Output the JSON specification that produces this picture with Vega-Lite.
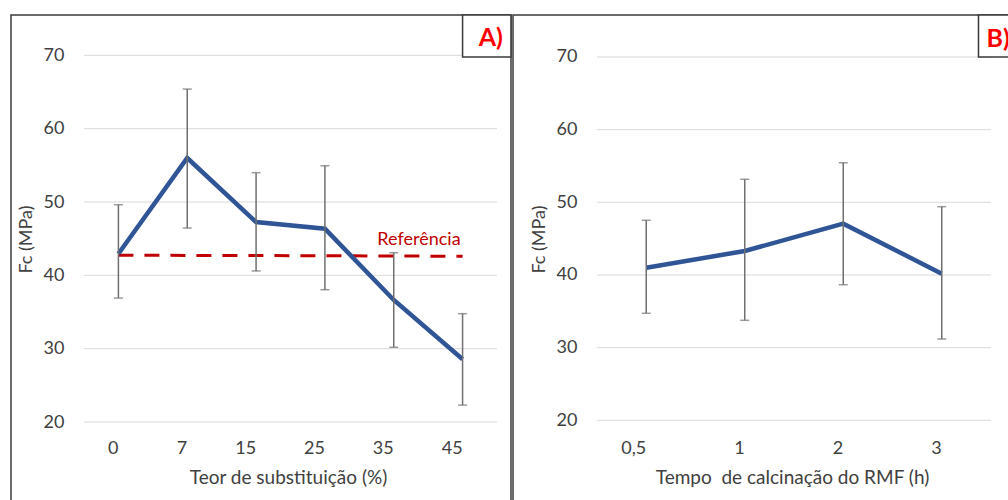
{
  "$schema": "https://vega.github.io/schema/vega-lite/v6.json",
  "padding": {"left": 10, "top": 13, "right": 0, "bottom": 0},
  "spacing": -2.5,
  "config": {
    "view": {"stroke": "#3a3a3a", "strokeWidth": 1.5},
    "font": "Lato",
    "axis": {
      "labelFont": "Lato", "labelFontSize": 18, "labelColor": "#404040",
      "titleFont": "Lato", "titleFontSize": 18, "titleColor": "#404040", "titleFontWeight": "normal",
      "domain": false, "ticks": false, "tickSize": 0, "grid": false, "labelPadding": 2
    }
  },
  "datasets": {
    "subst": [
      {"teor": 0, "fc": 42.95, "lo": 36.9, "hi": 49.63, "ref": 42.75},
      {"teor": 7, "fc": 56.0, "lo": 46.45, "hi": 65.4, "ref": 42.72},
      {"teor": 15, "fc": 47.27, "lo": 40.6, "hi": 54.0, "ref": 42.7},
      {"teor": 25, "fc": 46.36, "lo": 38.04, "hi": 54.95, "ref": 42.67},
      {"teor": 35, "fc": 36.64, "lo": 30.19, "hi": 43.09, "ref": 42.64},
      {"teor": 45, "fc": 28.55, "lo": 22.3, "hi": 34.77, "ref": 42.6}
    ],
    "calc": [
      {"tempo": "0,5", "fc": 41.0, "lo": 34.73, "hi": 47.53},
      {"tempo": "1", "fc": 43.3, "lo": 33.76, "hi": 53.17},
      {"tempo": "2", "fc": 47.06, "lo": 38.66, "hi": 55.45},
      {"tempo": "3", "fc": 40.18, "lo": 31.19, "hi": 49.4}
    ],
    "grid": [{"g": 20}, {"g": 30}, {"g": 40}, {"g": 50}, {"g": 60}, {"g": 70}]
  },
  "hconcat": [
    {
      "width": 500,
      "height": 492,
      "layer": [
        {
          "data": {"name": "grid"},
          "mark": {"type": "rule", "color": "#d9d9d9", "strokeWidth": 1},
          "encoding": {
            "y": {"field": "g", "type": "quantitative", "scale": {"domain": [8.41, 75.5], "nice": false, "zero": false}},
            "x": {"datum": 0, "type": "ordinal", "bandPosition": 0, "scale": {"type": "band", "paddingInner": 0, "paddingOuter": 0.632, "align": 0.839}},
            "x2": {"datum": 45, "bandPosition": 1}
          }
        },
        {
          "data": {"values": [{"panel": "A)"}]},
          "mark": {"type": "rect", "fill": "white", "stroke": "#3a3a3a", "strokeWidth": 1.5},
          "encoding": {
            "x": {"datum": 45, "type": "ordinal", "bandPosition": 0.5},
            "x2": {"datum": 45, "bandPosition": 1.203},
            "y": {"datum": 69.77, "type": "quantitative"},
            "y2": {"datum": 75.5}
          }
        },
        {
          "data": {"values": [{"panel": "A)"}]},
          "mark": {"type": "text", "color": "#ff0000", "fontSize": 25, "fontWeight": "bold", "align": "right", "baseline": "middle"},
          "encoding": {
            "x": {"datum": 45, "type": "ordinal", "bandPosition": 1.087},
            "y": {"datum": 72.36, "type": "quantitative"},
            "text": {"field": "panel"}
          }
        },
        {
          "data": {"name": "subst"},
          "mark": {"type": "line", "color": "#c00000", "strokeWidth": 3, "strokeDash": [15, 11]},
          "encoding": {
            "x": {"field": "teor", "type": "ordinal"},
            "y": {"field": "ref", "type": "quantitative"}
          }
        },
        {
          "data": {"values": [{"label": "Referência"}]},
          "mark": {"type": "text", "color": "#c00000", "fontSize": 18, "align": "right", "baseline": "middle", "dx": -2},
          "encoding": {
            "x": {"datum": 45, "type": "ordinal"},
            "y": {"datum": 44.8, "type": "quantitative"},
            "text": {"field": "label"}
          }
        },
        {
          "data": {"name": "subst"},
          "mark": {"type": "line", "color": "#2f5597", "strokeWidth": 4.5},
          "encoding": {
            "x": {"field": "teor", "type": "ordinal", "axis": {"title": "Teor de substituição (%)", "labelAngle": 0, "offset": -63, "labelPadding": 4, "titlePadding": 11, "titleX": 277, "titleAlign": "center", "titleFontSize": 19}},
            "y": {"field": "fc", "type": "quantitative", "axis": {"title": "Fc (MPa)", "values": [20, 30, 40, 50, 60, 70], "offset": -55, "titlePadding": 8, "titleY": 224, "labelOverlap": false}}
          }
        },
        {
          "data": {"name": "subst"},
          "mark": {"type": "rule", "color": "#707070", "strokeWidth": 1.5},
          "encoding": {
            "x": {"field": "teor", "type": "ordinal"},
            "y": {"field": "lo", "type": "quantitative"},
            "y2": {"field": "hi"}
          }
        },
        {
          "data": {"name": "subst"},
          "mark": {"type": "tick", "color": "#707070", "orient": "horizontal", "size": 9, "thickness": 1.5},
          "encoding": {
            "x": {"field": "teor", "type": "ordinal"},
            "y": {"field": "hi", "type": "quantitative"}
          }
        },
        {
          "data": {"name": "subst"},
          "mark": {"type": "tick", "color": "#707070", "orient": "horizontal", "size": 9, "thickness": 1.5},
          "encoding": {
            "x": {"field": "teor", "type": "ordinal"},
            "y": {"field": "lo", "type": "quantitative"}
          }
        }
      ]
    },
    {
      "width": 514,
      "height": 492,
      "layer": [
        {
          "data": {"name": "grid"},
          "mark": {"type": "rule", "color": "#d9d9d9", "strokeWidth": 1},
          "encoding": {
            "y": {"field": "g", "type": "quantitative", "scale": {"domain": [8.07, 75.78], "nice": false, "zero": false}},
            "x": {"datum": "0,5", "type": "ordinal", "bandPosition": 0, "scale": {"type": "band", "paddingInner": 0, "paddingOuter": 0.609, "align": 0.7}},
            "x2": {"datum": "3", "bandPosition": 1}
          }
        },
        {
          "data": {"values": [{"panel": "B)"}]},
          "mark": {"type": "rect", "fill": "white", "stroke": "#3a3a3a", "strokeWidth": 1.5},
          "encoding": {
            "x": {"datum": "3", "type": "ordinal", "bandPosition": 0.873},
            "x2": {"datum": "3", "bandPosition": 1.37},
            "y": {"datum": 70, "type": "quantitative"},
            "y2": {"datum": 75.78}
          }
        },
        {
          "data": {"values": [{"panel": "B)"}]},
          "mark": {"type": "text", "color": "#ff0000", "fontSize": 25, "fontWeight": "bold", "align": "left", "baseline": "middle", "dx": 8},
          "encoding": {
            "x": {"datum": "3", "type": "ordinal", "bandPosition": 0.873},
            "y": {"datum": 72.5, "type": "quantitative"},
            "text": {"field": "panel"}
          }
        },
        {
          "data": {"name": "calc"},
          "mark": {"type": "line", "color": "#2f5597", "strokeWidth": 4.5},
          "encoding": {
            "x": {"field": "tempo", "type": "ordinal", "axis": {"title": "Tempo \u00a0de calcinação do RMF (h)", "labelAngle": 0, "offset": -63, "labelPadding": 4, "titlePadding": 11, "titleX": 279, "titleAlign": "center", "titleFontSize": 19}},
            "y": {"field": "fc", "type": "quantitative", "axis": {"title": "Fc (MPa)", "values": [20, 30, 40, 50, 60, 70], "offset": -66, "titlePadding": 8, "titleY": 224, "labelOverlap": false}}
          }
        },
        {
          "data": {"name": "calc"},
          "mark": {"type": "rule", "color": "#707070", "strokeWidth": 1.5},
          "encoding": {
            "x": {"field": "tempo", "type": "ordinal"},
            "y": {"field": "lo", "type": "quantitative"},
            "y2": {"field": "hi"}
          }
        },
        {
          "data": {"name": "calc"},
          "mark": {"type": "tick", "color": "#707070", "orient": "horizontal", "size": 9, "thickness": 1.5},
          "encoding": {
            "x": {"field": "tempo", "type": "ordinal"},
            "y": {"field": "hi", "type": "quantitative"}
          }
        },
        {
          "data": {"name": "calc"},
          "mark": {"type": "tick", "color": "#707070", "orient": "horizontal", "size": 9, "thickness": 1.5},
          "encoding": {
            "x": {"field": "tempo", "type": "ordinal"},
            "y": {"field": "lo", "type": "quantitative"}
          }
        }
      ]
    }
  ]
}
